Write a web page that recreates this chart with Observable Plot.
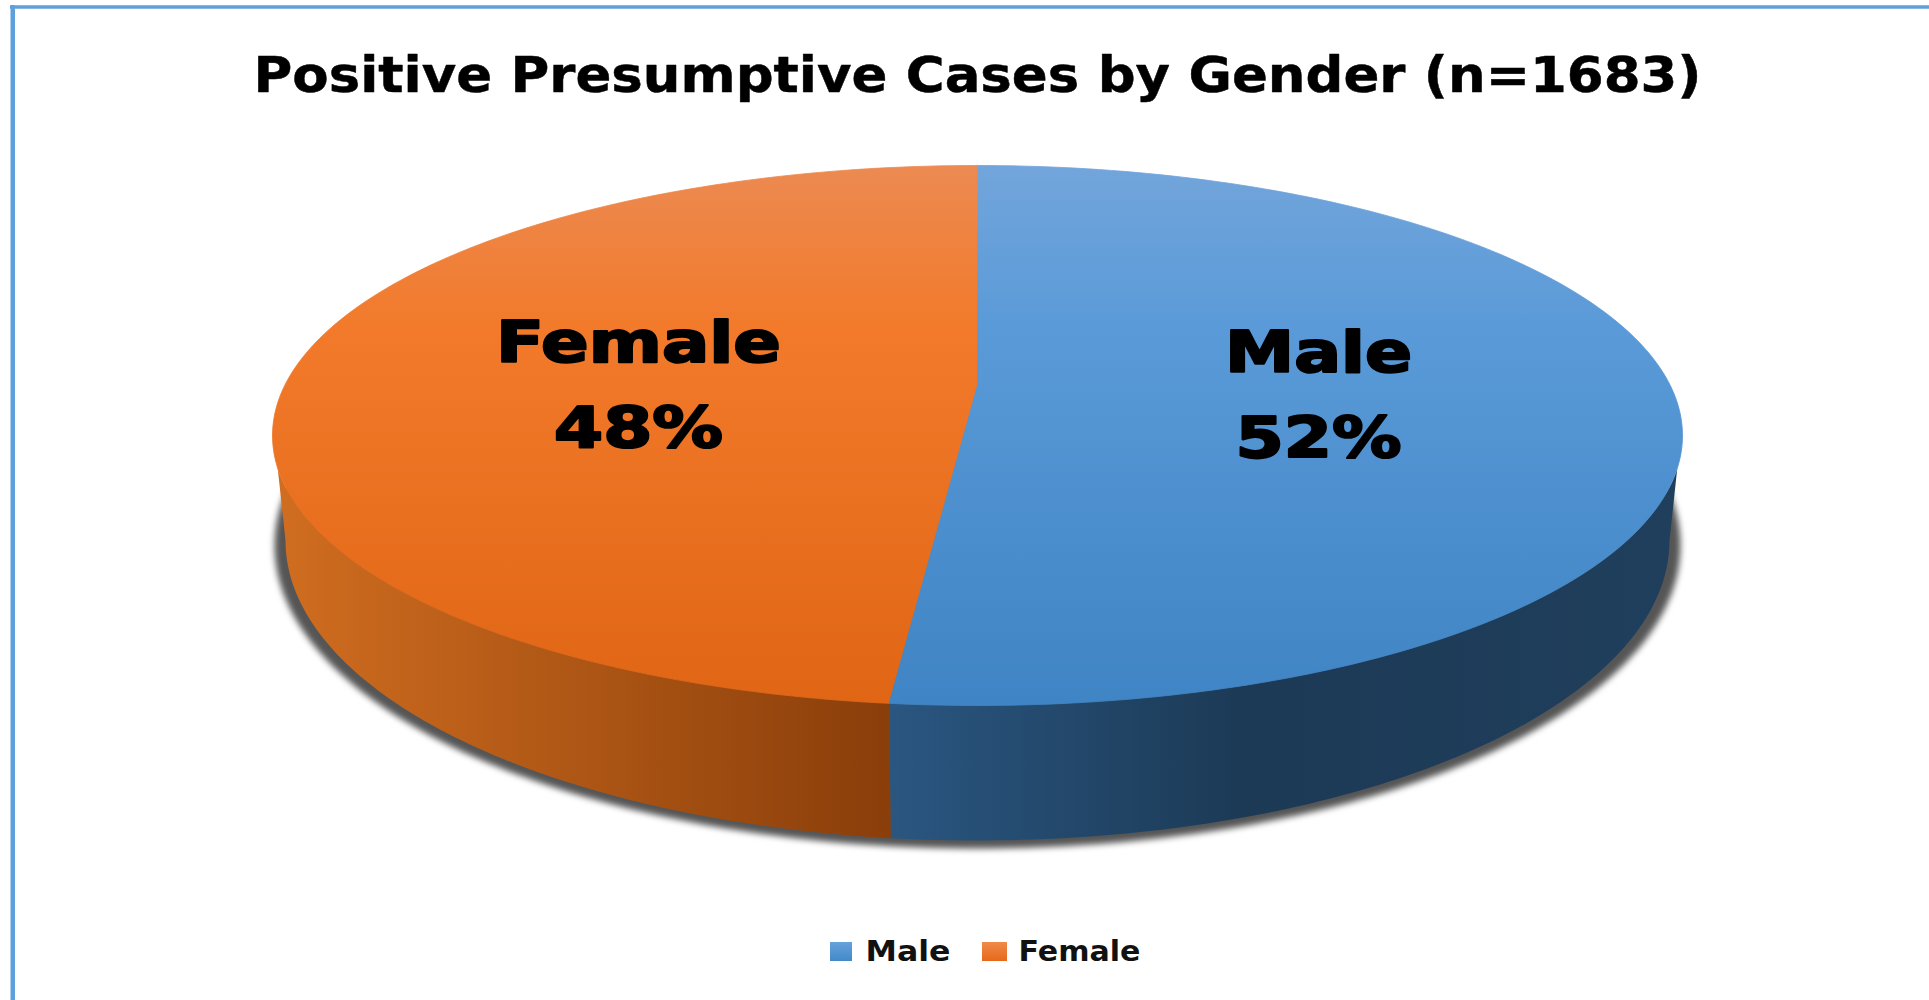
<!DOCTYPE html>
<html>
<head>
<meta charset="utf-8">
<script src="https://cdn.jsdelivr.net/npm/d3@7"></script>
<script src="https://cdn.jsdelivr.net/npm/@observablehq/plot@0.6"></script>
<style>
html,body{margin:0;padding:0;background:#fff;overflow:hidden}
svg{display:block}
</style>
</head>
<body>
<div id="chart"></div>
<script>
// Data
const categories = ["Male", "Female"];
const shares = [52, 48];
const titleText = "Positive Presumptive Cases by Gender (n=1683)";

// Layout of the tilted pie, in page units
const W = 1929, H = 1000;
const top3d = {cx: 977, cy: 435, rx: 705, ry: 270};
const low3d = {cx: 977, cy: 540, rx: 692, ry: 300};
const shadow3d = {cx: 977, cy: 545, rx: 703, ry: 303};
const hub = {x: 977, y: 385};
const rimStart = 97, rimEnd = 263;
const sliceLabels = {
  Male:   {x: 1318, y1: 353, y2: 439, w1: 187, w2: 166},
  Female: {x: 638,  y1: 343, y2: 429, w1: 285, w2: 169}
};
const legendItems = {
  Male:   {x1: 830, x2: 852, tx: 865, w: 85},
  Female: {x1: 982, x2: 1007, tx: 1018, w: 122}
};

const rad = d => d * Math.PI / 180;
const onEllipse = (e, deg) => ({x: e.cx + e.rx * Math.sin(rad(deg)), y: e.cy - e.ry * Math.cos(rad(deg))});
const arc = (e, a0, a1) => {
  const n = Math.max(2, Math.ceil(Math.abs(a1 - a0)));
  return d3.range(n + 1).map(i => onEllipse(e, a0 + (a1 - a0) * i / n));
};

// Slice angles from the shares, clockwise from twelve o'clock
const total = d3.sum(shares);
let running = 0;
const slices = categories.map((name, i) => {
  const a0 = running;
  running += shares[i] / total * 360;
  return {name, share: shares[i], a0, a1: running};
});
const wedge = s => [hub, ...arc(top3d, s.a0, s.a1), hub];
const side = s => {
  const a0 = Math.max(s.a0, rimStart), a1 = Math.min(s.a1, rimEnd);
  const b0 = Math.max(s.a0, 90), b1 = Math.min(s.a1, 270);
  return [...arc(top3d, a0, a1), ...arc(low3d, b1, b0)];
};

const gradients = [
  {id: "topMale", x2: 0, y2: 1, stops: [[0, "#72a5db"], [0.3, "#5a9ad8"], [1, "#3f84c4"]]},
  {id: "topFemale", x2: 0, y2: 1, stops: [[0, "#ec8a52"], [0.3, "#f27a2a"], [1, "#e06615"]]},
  {id: "sideMale", x2: 1, y2: 0, stops: [[0, "#2a5680"], [0.45, "#1c3a56"], [1, "#203f5c"]]},
  {id: "sideFemale", x2: 1, y2: 0, stops: [[0, "#d06d20"], [1, "#8a3e0a"]]},
  {id: "keyMale", x2: 0, y2: 1, stops: [[0, "#65a1dc"], [1, "#4389c9"]]},
  {id: "keyFemale", x2: 0, y2: 1, stops: [[0, "#f08a4a"], [1, "#e6691a"]]}
];
const defsMark = () => {
  const defs = d3.create("svg:defs");
  for (const g of gradients) {
    const lg = defs.append("linearGradient").attr("id", g.id)
      .attr("x1", 0).attr("y1", 0).attr("x2", g.x2).attr("y2", g.y2);
    for (const [o, c] of g.stops) lg.append("stop").attr("offset", o).attr("stop-color", c);
  }
  return defs.node();
};

const shape = (pts, fill, extra = {}) =>
  Plot.line(pts, {x: "x", y: "y", fill, stroke: "none", ...extra});

const heavy = "DejaVu Sans";
const labelRows = slices.flatMap(s => {
  const l = sliceLabels[s.name];
  return [
    {x: l.x, y: l.y1, text: s.name, fit: l.w1},
    {x: l.x, y: l.y2, text: s.share + "%", fit: l.w2}
  ];
});
const legendRows = categories.map(name => ({name, ...legendItems[name]}));

const plot = Plot.plot({
  width: W,
  height: H,
  margin: 0,
  x: {domain: [0, W], range: [0, W], axis: null},
  y: {domain: [0, H], range: [0, H], axis: null},
  style: {background: "#fff"},
  marks: [
    defsMark,
    Plot.ruleX([12.25], {y1: 5, y2: H, stroke: "#5f9fdc", strokeWidth: 4.5}),
    Plot.ruleY([6.5], {x1: 10, x2: W, stroke: "#5f9fdc", strokeWidth: 3.5}),
    Plot.text([titleText], {
      x: 977, y: 75, text: d => d, fontFamily: heavy, fontWeight: "bold", fontSize: 50,
      fill: "#000", stroke: "#000", strokeWidth: 0.5
    }),
    shape(arc(shadow3d, 0, 360), "#555", {imageFilter: "blur(3px)"}),
    ...slices.map(s => shape(side(s), "url(#side" + s.name + ")")),
    ...slices.slice().reverse().map(s => shape(wedge(s), "url(#top" + s.name + ")", {
      stroke: "url(#top" + s.name + ")", strokeWidth: 0.8
    })),
    Plot.text(labelRows, {
      x: "x", y: "y", text: "text", fontFamily: heavy, fontWeight: "bold", fontSize: 57,
      fill: "#000", stroke: "#000", strokeWidth: 2.2
    }),
    Plot.rect(legendRows, {
      x1: "x1", x2: "x2", y1: 942, y2: 961, fill: d => "url(#key" + d.name + ")"
    }),
    Plot.text(legendRows, {
      x: "tx", y: 951, text: "name", textAnchor: "start", fontFamily: heavy,
      fontWeight: "bold", fontSize: 29, fill: "#111"
    })
  ]
});

// Fit the wide, stretched lettering of the reference
const fit = new Map([[titleText, 1448], ...labelRows.map(r => [r.text, r.fit]),
  ...legendRows.map(r => [r.name + "|legend", r.w])]);
d3.select(plot).selectAll("text").each(function () {
  const t = d3.select(this), s = t.text();
  const anchor = this.closest("g")?.getAttribute("text-anchor");
  const key = anchor === "start" ? s + "|legend" : s;
  if (fit.has(key)) t.attr("textLength", fit.get(key)).attr("lengthAdjust", "spacingAndGlyphs");
});

document.getElementById("chart").append(plot);
</script>
</body>
</html>
